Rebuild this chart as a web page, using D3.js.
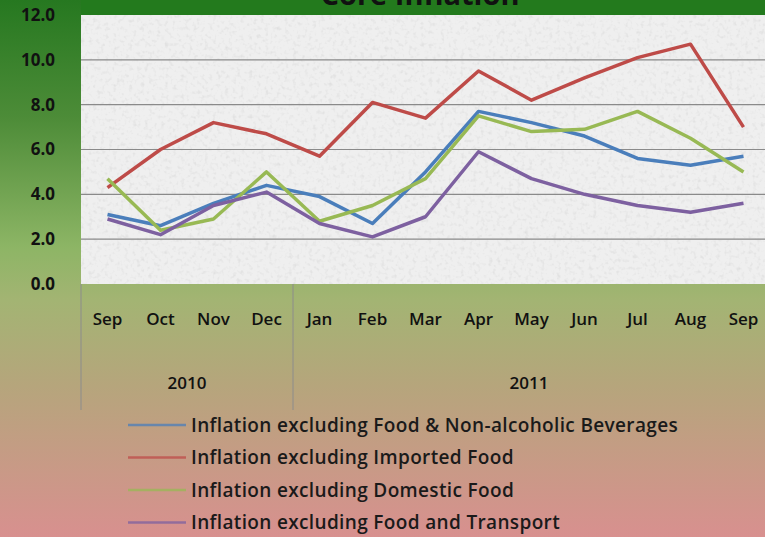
<!DOCTYPE html>
<html>
<head>
<meta charset="utf-8">
<script src="https://cdn.jsdelivr.net/npm/d3@7"></script>
<style>
  body { margin: 0; padding: 0; overflow: hidden; }
  svg { display: block; font-family: "Open Sans", Lato, sans-serif; }
</style>
</head>
<body>
<svg id="chart"></svg>
<script>
// chart data
const months = ["Sep", "Oct", "Nov", "Dec", "Jan", "Feb", "Mar", "Apr", "May", "Jun", "Jul", "Aug", "Sep"];
const years = [{ label: "2010", count: 4 }, { label: "2011", count: 9 }];
const foodBev = [3.1, 2.6, 3.6, 4.4, 3.9, 2.7, 5.0, 7.7, 7.2, 6.6, 5.6, 5.3, 5.7];
const imported = [4.3, 6.0, 7.2, 6.7, 5.7, 8.1, 7.4, 9.5, 8.2, 9.2, 10.1, 10.7, 7.0];
const domestic = [4.7, 2.4, 2.9, 5.0, 2.8, 3.5, 4.7, 7.5, 6.8, 6.9, 7.7, 6.5, 5.0];
const transport = [2.9, 2.2, 3.5, 4.1, 2.7, 2.1, 3.0, 5.9, 4.7, 4.0, 3.5, 3.2, 3.6];
const yTicks = [0, 2, 4, 6, 8, 10, 12];

const series = [
    { name: "Inflation excluding Food & Non-alcoholic Beverages", values: foodBev, color: "#4a7ebb" },
    { name: "Inflation excluding Imported Food", values: imported, color: "#be4b48" },
    { name: "Inflation excluding Domestic Food", values: domestic, color: "#98b954" },
    { name: "Inflation excluding Food and Transport", values: transport, color: "#7d60a0" }
];

var W = 765, H = 537;
var margin = { top: 15, left: 81 },
    bandW = 53,
    plotW = bandW * months.length,
    plotH = 269;

var svg = d3.select("#chart")
    .attr("width", W)
    .attr("height", H);

var defs = svg.append("defs");

// page background: green at the top, fading to tan and pink
var bg = defs.append("linearGradient")
    .attr("id", "bg").attr("x1", 0).attr("y1", 0).attr("x2", 0).attr("y2", 1);
[["0%", "#267820"], ["22%", "#4d8c38"], ["46%", "#8db565"], ["56%", "#a3b473"],
 ["72%", "#b6a57c"], ["100%", "#d8908f"]].forEach(s =>
    bg.append("stop").attr("offset", s[0]).attr("stop-color", s[1]));

// speckled texture of the plot area
var tex = defs.append("filter").attr("id", "speckle")
    .attr("x", 0).attr("y", 0).attr("width", "100%").attr("height", "100%");
tex.append("feTurbulence").attr("type", "fractalNoise")
    .attr("baseFrequency", 0.25).attr("numOctaves", 2).attr("seed", 3).attr("result", "noise");
tex.append("feColorMatrix").attr("in", "noise").attr("type", "matrix")
    .attr("values", "0 0 0 0 0.6  0 0 0 0 0.6  0 0 0 0 0.6  1.1 0 0 0 -0.55")
    .attr("result", "dots");
tex.append("feComposite").attr("in", "dots").attr("in2", "SourceGraphic").attr("operator", "atop");

svg.append("rect")
    .attr("width", W).attr("height", H)
    .attr("fill", "url(#bg)");

// dark green band behind the title
svg.append("rect")
    .attr("x", margin.left).attr("y", 0)
    .attr("width", W - margin.left).attr("height", margin.top)
    .attr("fill", "#237a1d");

// the title sits mostly above the visible area, as in the source
svg.append("text")
    .attr("x", 420).attr("y", 5)
    .attr("text-anchor", "middle")
    .style("font-size", "29px")
    .style("font-weight", 700)
    .attr("fill", "#111")
    .text("Core Inflation");

var g = svg.append("g")
    .attr("transform", `translate(${margin.left}, ${margin.top})`);

var x = d3.scaleBand()
    .domain(d3.range(months.length))
    .range([0, plotW]);

var y = d3.scaleLinear()
    .domain([0, 12])
    .range([plotH, 0]);

g.append("rect")
    .attr("width", plotW).attr("height", plotH)
    .attr("fill", "#efefef")
    .attr("filter", "url(#speckle)");

// gridlines
g.selectAll(".grid")
    .data(yTicks.slice(1, -1))
    .join("line")
    .attr("x1", 0).attr("x2", plotW)
    .attr("y1", d => y(d)).attr("y2", d => y(d))
    .attr("stroke", "#8a8a8a").attr("stroke-width", 1.2);

// y axis labels
var yAxis = d3.axisLeft(y).tickValues(yTicks).tickFormat(d3.format(".1f")).tickSize(0).tickPadding(26);
g.append("g")
    .call(yAxis)
    .call(a => a.select(".domain").remove())
    .selectAll("text")
    .style("font-size", "17px")
    .style("font-weight", 700)
    .style("font-family", "'Open Sans', sans-serif")
    .attr("fill", "#111");

// category axis: months and years, with separators
var xAxis = d3.axisBottom(x).tickFormat(i => months[i]).tickSize(0).tickPadding(29);
g.append("g")
    .attr("transform", `translate(0, ${plotH})`)
    .call(xAxis)
    .call(a => a.select(".domain").remove())
    .selectAll("text")
    .style("font-size", "17px")
    .style("font-weight", 600)
    .style("font-family", "'Open Sans', sans-serif")
    .attr("fill", "#111");

var start = 0;
var yearPos = years.map(yr => {
    var p = { label: yr.label, from: start, to: start + yr.count };
    start += yr.count;
    return p;
});

g.selectAll(".sep")
    .data([0].concat(yearPos.slice(0, -1).map(p => p.to)))
    .join("line")
    .attr("x1", d => x(d)).attr("x2", d => x(d))
    .attr("y1", plotH).attr("y2", plotH + 126)
    .attr("stroke", "#8c8c8c").attr("stroke-width", 1);

g.selectAll(".year")
    .data(yearPos)
    .join("text")
    .attr("x", d => (x(d.from) + Math.min(x(d.to - 1) + bandW, W - margin.left)) / 2)
    .attr("y", plotH + 105)
    .attr("text-anchor", "middle")
    .style("font-size", "17px")
    .style("font-weight", 600)
    .attr("fill", "#111")
    .text(d => d.label);

// the four lines
var line = d3.line()
    .x((d, i) => x(i) + x.bandwidth() / 2)
    .y(d => y(d));

g.selectAll(".series")
    .data(series)
    .join("path")
    .attr("fill", "none")
    .attr("stroke", d => d.color)
    .attr("stroke-width", 3.5)
    .attr("stroke-linejoin", "round")
    .attr("d", d => line(d.values));

// legend
var legend = svg.append("g")
    .attr("transform", "translate(128, 425)");

var item = legend.selectAll(".item")
    .data(series)
    .join("g")
    .attr("transform", (d, i) => `translate(0, ${i * 32.5})`);

item.append("line")
    .attr("x1", 0).attr("x2", 58)
    .attr("stroke", d => d.color)
    .attr("stroke-width", 2.5)
    .attr("opacity", 0.75);

item.append("text")
    .attr("x", 63).attr("y", 6.5)
    .style("font-size", "19px")
    .style("font-weight", 600)
    .style("letter-spacing", "0.35px")
    .attr("fill", "#1a1a1a")
    .text(d => d.name);
</script>
</body>
</html>
